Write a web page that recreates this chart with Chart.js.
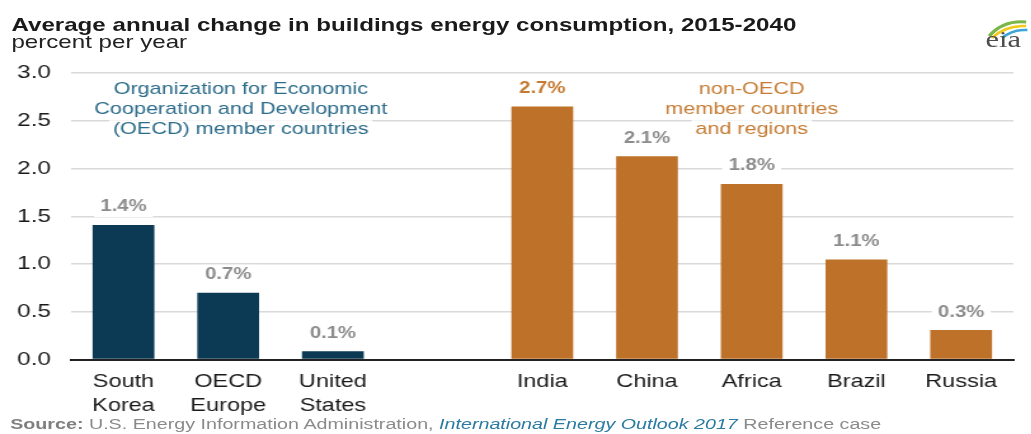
<!DOCTYPE html>
<html>
<head>
<meta charset="utf-8">
<script src="https://cdn.jsdelivr.net/npm/chart.js@4.4.1/dist/chart.umd.min.js"></script>
<style>
  html, body { margin: 0; padding: 0; background: #fff; }
  body { width: 1031px; height: 434px; overflow: hidden; position: relative; font-family: "Liberation Sans", Arial, sans-serif; }
  /* the original graphic is stretched sideways, so the whole page is drawn narrow and widened */
  #stretch { position: absolute; left: 0; top: 0; width: 812px; height: 434px; transform: scaleX(1.27); transform-origin: 0 0; }
  #title { position: absolute; left: 9px; top: 14px; font-weight: bold; font-size: 19px; color: #1a1a1a; white-space: nowrap; }
  #subtitle { position: absolute; left: 9px; top: 31px; font-size: 19px; color: #222; white-space: nowrap; }
  #chart { position: absolute; left: 0; top: 55px; }
  #source { position: absolute; left: 8px; top: 415px; font-size: 15.5px; color: #8a8a8a; white-space: nowrap; }
  #source b { color: #7f7f7f; }
  #source i { color: #2b7aa1; }
  #logo { position: absolute; left: 776px; top: 16px; }
</style>
</head>
<body>
<div id="stretch">
  <div id="title">Average annual change in buildings energy consumption, 2015-2040</div>
  <div id="subtitle">percent per year</div>
  <canvas id="chart" width="812" height="374"></canvas>
  <div id="source"><b>Source:</b> U.S. Energy Information Administration, <i>International Energy Outlook 2017</i> Reference case</div>
  <svg id="logo" width="34" height="36" viewBox="0 0 34 36">
    <path d="M3 20 Q14 4 32 6" fill="none" stroke="#7ab648" stroke-width="3"/>
    <path d="M5 22 Q16 9 32 10" fill="none" stroke="#f2c919" stroke-width="2.5"/>
    <path d="M13 22 Q22 13 33 14" fill="none" stroke="#3ea5d6" stroke-width="2.5"/>
    <text x="0" y="31" font-family="Liberation Serif, serif" font-size="24" fill="#4d4d4d">eia</text>
  </svg>
</div>

<script>
// Datos
const categories = [["South", "Korea"], ["OECD", "Europe"], ["United", "States"], "", "India", "China", "Africa", "Brazil", "Russia"];
const groups = ["oecd", "oecd", "oecd", null, "nonoecd", "nonoecd", "nonoecd", "nonoecd", "nonoecd"];
const values = [1.41, 0.70, 0.09, null, 2.65, 2.13, 1.84, 1.05, 0.31];
const valueLabels = ["1.4%", "0.7%", "0.1%", "", "2.7%", "2.1%", "1.8%", "1.1%", "0.3%"];
const yTicks = [0, 0.5, 1.0, 1.5, 2.0, 2.5, 3.0];
const oecdNote = ["Organization for Economic", "Cooperation and Development", "(OECD) member countries"];
const nonOecdNote = ["non-OECD", "member countries", "and regions"];

const NAVY = "#0c3a54";
const ORANGE = "#bd7129";
const FONT = '"Liberation Sans", Arial, sans-serif';

const colores = groups.map(g => g === "oecd" ? NAVY : g === "nonoecd" ? ORANGE : "rgba(0,0,0,0)");

// Etiquetas de valor y notas de grupo
const etiquetas = {
  id: "etiquetas",
  afterDatasetsDraw(chart) {
    const ctx = chart.ctx;
    const meta = chart.getDatasetMeta(0);
    const x = chart.scales.x;
    const y = chart.scales.y;
    const maxIdx = values.indexOf(Math.max(...values.filter(v => v !== null)));
    ctx.save();
    ctx.textAlign = "center";
    ctx.textBaseline = "middle";

    ctx.font = "bold 16px " + FONT;
    meta.data.forEach((bar, i) => {
      if (values[i] === null) return;
      const ty = bar.y - 18;
      const w = ctx.measureText(valueLabels[i]).width + 10;
      ctx.fillStyle = "#fff";
      ctx.fillRect(bar.x - w / 2, ty - 10, w, 20);
      ctx.fillStyle = i === maxIdx ? "#c47a30" : "#8c8c8c";
      ctx.fillText(valueLabels[i], bar.x, ty);
    });

    ctx.font = "17px " + FONT;
    const nota = (lines, cx, color) => {
      const top = y.getPixelForValue(2.83);
      lines.forEach((t, k) => {
        const ly = top + k * 20;
        const w = ctx.measureText(t).width + 6;
        ctx.fillStyle = "#fff";
        ctx.fillRect(cx - w / 2, ly - 9, w, 18);
        ctx.fillStyle = color;
        ctx.fillText(t, cx, ly);
      });
    };
    nota(oecdNote, x.getPixelForValue(1.12), "#2c6c8a");
    nota(nonOecdNote, x.getPixelForValue(6), "#c67c34");
    ctx.restore();
  }
};

new Chart(document.getElementById("chart").getContext("2d"), {
  type: "bar",
  data: {
    labels: categories,
    datasets: [{
      data: values,
      backgroundColor: colores,
      borderWidth: 0,
      barPercentage: 1,
      categoryPercentage: 0.59
    }]
  },
  options: {
    responsive: false,
    animation: false,
    devicePixelRatio: 1,
    layout: { padding: { top: 18, left: 13, right: 14, bottom: 1 } },
    plugins: { legend: { display: false }, tooltip: { enabled: false } },
    scales: {
      x: {
        afterFit: s => { s.paddingLeft = 0; s.paddingRight = 0; },
        grid: { display: false, drawTicks: false },
        border: { display: true, color: "#222", width: 2 },
        ticks: {
          color: "#1a1a1a",
          font: { family: FONT, size: 18.5, lineHeight: 1.25 },
          padding: 11,
          maxRotation: 0,
          autoSkip: false
        }
      },
      y: {
        min: 0,
        max: 3,
        afterBuildTicks: s => { s.ticks = yTicks.map(v => ({ value: v })); },
        // ancho fijo: etiquetas + un solo margen
        afterFit: s => { s.width = 43; s.paddingTop = 0; s.paddingBottom = 0; },
        grid: {
          drawTicks: false,
          color: c => c.tick && c.tick.value === 0 ? "#222" : "#d9d9d9",
          lineWidth: c => c.tick && c.tick.value === 0 ? 2 : 1.5
        },
        border: { display: false },
        ticks: {
          color: "#1a1a1a",
          font: { family: FONT, size: 19 },
          padding: 16,
          callback: v => Number(v).toFixed(1)
        }
      }
    }
  },
  plugins: [etiquetas]
});
</script>
</body>
</html>
